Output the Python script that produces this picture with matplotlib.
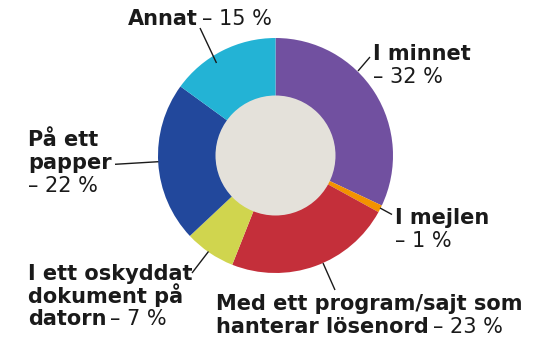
import matplotlib
matplotlib.use("Agg")
import matplotlib.pyplot as plt
from matplotlib.patches import Circle

categories = ["I minnet", "I mejlen", "Med ett program/sajt som hanterar lösenord",
              "I ett oskyddat dokument på datorn", "På ett papper", "Annat"]
values = [32, 1, 23, 7, 22, 15]
colors = ["#7150A0", "#F39200", "#C42F3A", "#D0D54E", "#22489C", "#23B3D5"]
# bold lines of each label; the value is appended on the line given
label_lines = [["I minnet", ""], ["I mejlen", ""], ["Med ett program/sajt som", "hanterar lösenord"],
               ["I ett oskyddat", "dokument på", "datorn"], ["På ett", "papper", ""], ["Annat"]]

W, H = 560, 351
fig = plt.figure(figsize=(W / 100, H / 100), dpi=100)
ax = fig.add_axes([0, 0, 1, 1])

def Y(y):
    return H - y

cx, cy, R, r = 275.5, 155.5, 117.5, 60
ax.pie(values, colors=colors, startangle=90, counterclock=False, radius=R,
       center=(cx, Y(cy)), wedgeprops=dict(width=R - r + 1, linewidth=0))
ax.add_patch(Circle((cx, Y(cy)), r, facecolor="#E4E1DA", edgecolor="none", zorder=5))
ax.set_xlim(0, W)
ax.set_ylim(0, H)
ax.set_aspect("equal")
ax.axis("off")

FS = 15.0
FAM = ["DejaVu Sans"]
# label anchor (left x, first baseline y) and leader line in pixels
anchors = [(373, 60.5), (395, 224.5), (216, 310.5), (28, 280), (28, 146.5), (128, 25)]
leaders = [((370, 57), (358, 71)), ((380, 208), (392, 214.5)), ((323, 263), (335, 290)),
           ((192, 273), (208.5, 251.5)), ((115, 164.3), (158.5, 161.7)), ((200, 28), (216.5, 63))]
LH = 22.6

renderer = fig.canvas.get_renderer()
for i, (lines, (lx, ly), seg) in enumerate(zip(label_lines, anchors, leaders)):
    for j, txt in enumerate(lines):
        by = ly + j * LH
        x_end = lx
        if txt:
            t = ax.text(lx, Y(by), txt, fontsize=FS, fontweight="bold", family=FAM,
                        va="baseline", ha="left", color="#1a1a1a")
            bb = t.get_window_extent(renderer)
            x_end = bb.x1 * 100 / fig.dpi
        if j == len(lines) - 1:
            val = f"– {values[i]} %"
            gap = 4 if txt else 0
            ax.text(x_end + gap, Y(by), val, fontsize=FS, fontweight="normal", family=FAM,
                    va="baseline", ha="left", color="#1a1a1a")
    (x0, y0), (x1, y1) = seg
    ax.plot([x0, x1], [Y(y0), Y(y1)], color="#1a1a1a", lw=1.0, solid_capstyle="butt")

fig.savefig("out.png", dpi=100)
